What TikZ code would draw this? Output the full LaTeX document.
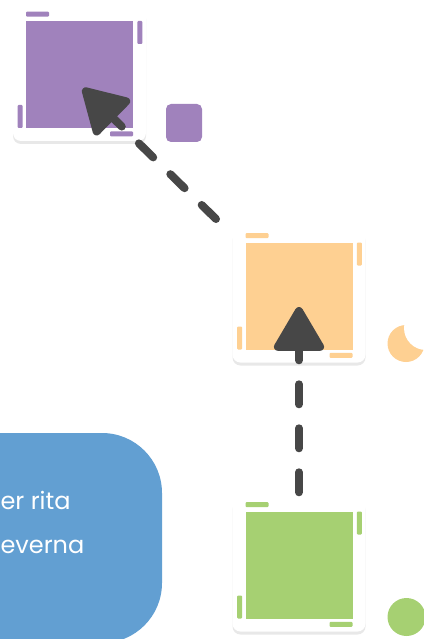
\documentclass[tikz,border=0pt]{standalone}
\usepackage{fontspec}
\newfontfamily\mont{Poppins}
\usepackage{tikz}
\usetikzlibrary{arrows.meta,shadows}
\definecolor{lilac}{RGB}{160,130,188}
\definecolor{peach}{RGB}{254,208,146}
\definecolor{leaf}{RGB}{166,208,114}
\definecolor{sky}{RGB}{98,159,210}
\definecolor{ink}{RGB}{71,71,71}

\begin{document}
\begin{tikzpicture}[x=1pt,y=-1pt,
  card/.style={fill=white,rounded corners=8pt,minimum size=133pt,inner sep=0pt,
               drop shadow={shadow xshift=0pt,shadow yshift=-3pt,opacity=.18}},
  sq/.style={minimum size=107pt,inner sep=0pt},
  hbar/.style={minimum width=23pt,minimum height=5pt,inner sep=0pt,rounded corners=1pt},
  vbar/.style={hbar,minimum width=5pt,minimum height=23pt},
  flow/.style={draw=ink,line width=8pt,line cap=round,dash pattern=on 20pt off 24pt,
               -{Triangle[length=48pt,width=54pt,round]}},
  txt/.style={text=white,font=\mont\fontsize{24}{24}\selectfont}]

\useasboundingbox (0,0) rectangle (423,639);

\fill[sky,rounded corners=60pt] (-120,433) rectangle (162,643);
\node[txt,anchor=base west] (l1) at (-3,509) {er rita};
\node[txt,anchor=base west] (l2) at (-3,553) {everna};

\foreach \n/\c/\x/\y in {p/lilac/79.5/74.5,o/peach/299/296,g/leaf/299/565}{
  \node[card] (\n card) at (\x,\y) {};
  \node[sq,fill=\c] (\n sq) at (\n card) {};
  \node[hbar,fill=\c,anchor=south west] (\n b1) at ([yshift=4pt]\n sq.north west) {};
  \node[vbar,fill=\c,anchor=north west] (\n b2) at ([xshift=4pt]\n sq.north east) {};
  \node[vbar,fill=\c,anchor=south east] (\n b3) at ([xshift=-3pt]\n sq.south west) {};
  \node[hbar,fill=\c,anchor=north east] (\n b4) at ([yshift=-3pt]\n sq.south east) {};
}

\node[fill=lilac,rounded corners=5pt,minimum width=36pt,minimum height=38pt,
      inner sep=0pt] (pmark) at (184,123) {};
\fill[peach] (406,343.5) circle (18.5pt);
\fill[white] (426,328) circle (22pt);
\node[circle,fill=leaf,minimum size=38pt,inner sep=0pt] (gmark) at (406.5,617) {};

\coordinate (otail) at (216,219);
\draw[flow] ([yshift=6pt]gcard.north) -- ([yshift=-11pt]ocard.center);
\draw[flow] (otail) -- ([shift={(3.5,14)}]pcard.center);
\end{tikzpicture}
\end{document}
